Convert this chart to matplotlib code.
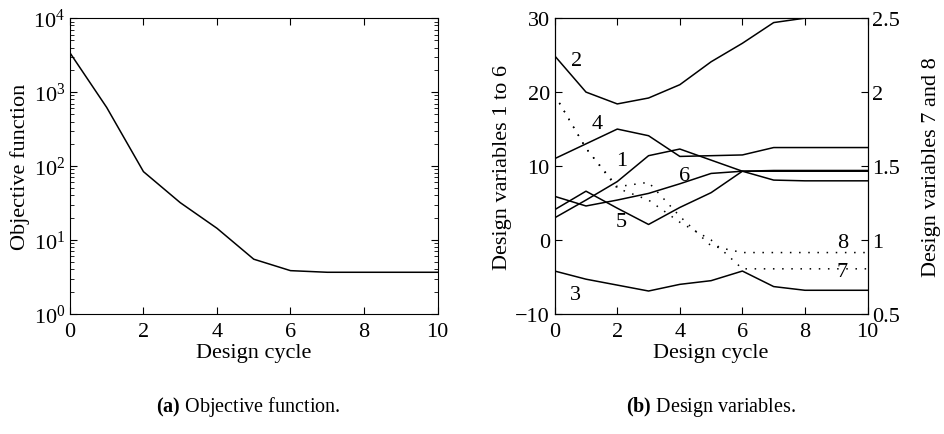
import matplotlib
matplotlib.use("Agg")
import matplotlib.pyplot as plt
from matplotlib.ticker import LogLocator, NullFormatter

plt.rcParams["font.family"] = ["Liberation Serif", "DejaVu Serif"]
plt.rcParams["mathtext.fontset"] = "custom"
plt.rcParams["mathtext.rm"] = "Liberation Serif"
plt.rcParams["mathtext.bf"] = "Liberation Serif:bold"
plt.rcParams["axes.unicode_minus"] = True

# design cycles
cycles = [0, 1, 2, 3, 4, 5, 6, 7, 8, 9, 10]

# objective function history
objective = [3400, 620, 84, 32, 14.4, 5.5, 3.85, 3.66, 3.66, 3.66, 3.66]

# design variables 1-6 (left axis)
var1 = [3.0, 5.4, 7.9, 11.4, 12.3, 10.8, 9.3, 8.1, 8.0, 8.0, 8.0]
var2 = [24.9, 20.0, 18.4, 19.2, 21.0, 24.1, 26.6, 29.4, 30.0, 30.0, 30.0]
var3 = [-4.2, -5.3, -6.1, -6.9, -6.0, -5.5, -4.2, -6.3, -6.8, -6.8, -6.8]
var4 = [11.0, 13.0, 15.0, 14.1, 11.3, 11.4, 11.5, 12.5, 12.5, 12.5, 12.5]
var5 = [4.1, 6.6, 4.3, 2.1, 4.4, 6.4, 9.3, 9.3, 9.3, 9.3, 9.3]
var6 = [5.9, 4.6, 5.4, 6.3, 7.6, 9.0, 9.3, 9.4, 9.4, 9.4, 9.4]

# design variables 7 and 8 (right axis)
var7 = [1.98, 1.62, 1.35, 1.27, 1.12, 1.0, 0.805, 0.805, 0.805, 0.805, 0.805]
var8 = [1.98, 1.62, 1.36, 1.39, 1.16, 0.96, 0.915, 0.915, 0.915, 0.915, 0.915]

# curve labels: (text, x, y) in left-axis units
curve_labels = [("1", 2.13, 10.7), ("2", 0.7, 24.3), ("3", 0.65, -7.35),
                ("4", 1.35, 15.7), ("5", 2.13, 2.5), ("6", 4.16, 8.7),
                ("7", 9.2, -4.2), ("8", 9.2, -0.4)]

fs = 16
fig = plt.figure(figsize=(9.45, 4.35), dpi=100)

ax1 = fig.add_axes([0.074, 0.276, 0.389, 0.680])
ax1.semilogy(cycles, objective, color="black", lw=1.1)
ax1.set_xlim(0, 10)
ax1.set_ylim(1, 1e4)
ax1.set_xticks([0, 2, 4, 6, 8, 10])
ax1.yaxis.set_major_locator(LogLocator(base=10, numticks=10))
ax1.yaxis.set_minor_locator(LogLocator(base=10, subs=range(2, 10), numticks=10))
ax1.yaxis.set_minor_formatter(NullFormatter())
ax1.tick_params(which="both", direction="in", top=True, right=True, labelsize=fs)
ax1.tick_params(which="major", length=5)
ax1.tick_params(which="minor", length=3)
ax1.tick_params(axis="x", pad=6)
ax1.set_xlabel("Design cycle", fontsize=fs, labelpad=1)
ax1.set_ylabel("Objective function", fontsize=fs, labelpad=2)

ax2 = fig.add_axes([0.587, 0.276, 0.331, 0.680])
for v in (var1, var2, var3, var4, var5, var6):
    ax2.plot(cycles, v, color="black", lw=1.1)
ax2.set_xlim(0, 10)
ax2.set_ylim(-10, 30)
ax2.set_xticks([0, 2, 4, 6, 8, 10])
ax2.set_yticks([-10, 0, 10, 20, 30])
ax2.tick_params(direction="in", length=5, top=True, labelsize=fs)
ax2.tick_params(axis="x", pad=6)
ax2.set_xlabel("Design cycle", fontsize=fs, labelpad=1)
ax2.set_ylabel("Design variables 1 to 6", fontsize=fs, labelpad=2)
for txt, x, y in curve_labels:
    ax2.text(x, y, txt, fontsize=fs, ha="center", va="center")

ax3 = ax2.twinx()
ax3.plot(cycles, var7, color="black", lw=1.1, ls=(0, (1, 5)))
ax3.plot(cycles, var8, color="black", lw=1.1, ls=(0, (1, 5)))
ax3.set_ylim(0.5, 2.5)
ax3.set_yticks([0.5, 1, 1.5, 2, 2.5])
ax3.set_yticklabels(["0.5", "1", "1.5", "2", "2.5"])
ax3.tick_params(direction="in", length=5, labelsize=fs)
ax3.set_ylabel("Design variables 7 and 8", fontsize=fs, labelpad=16)

fig.text(0.263, 0.064, r"$\mathbf{(a)}$ Objective function.", fontsize=14.5,
         ha="center", va="center")
fig.text(0.752, 0.064, r"$\mathbf{(b)}$ Design variables.", fontsize=14.5,
         ha="center", va="center")

fig.savefig("out.png", dpi=100)
